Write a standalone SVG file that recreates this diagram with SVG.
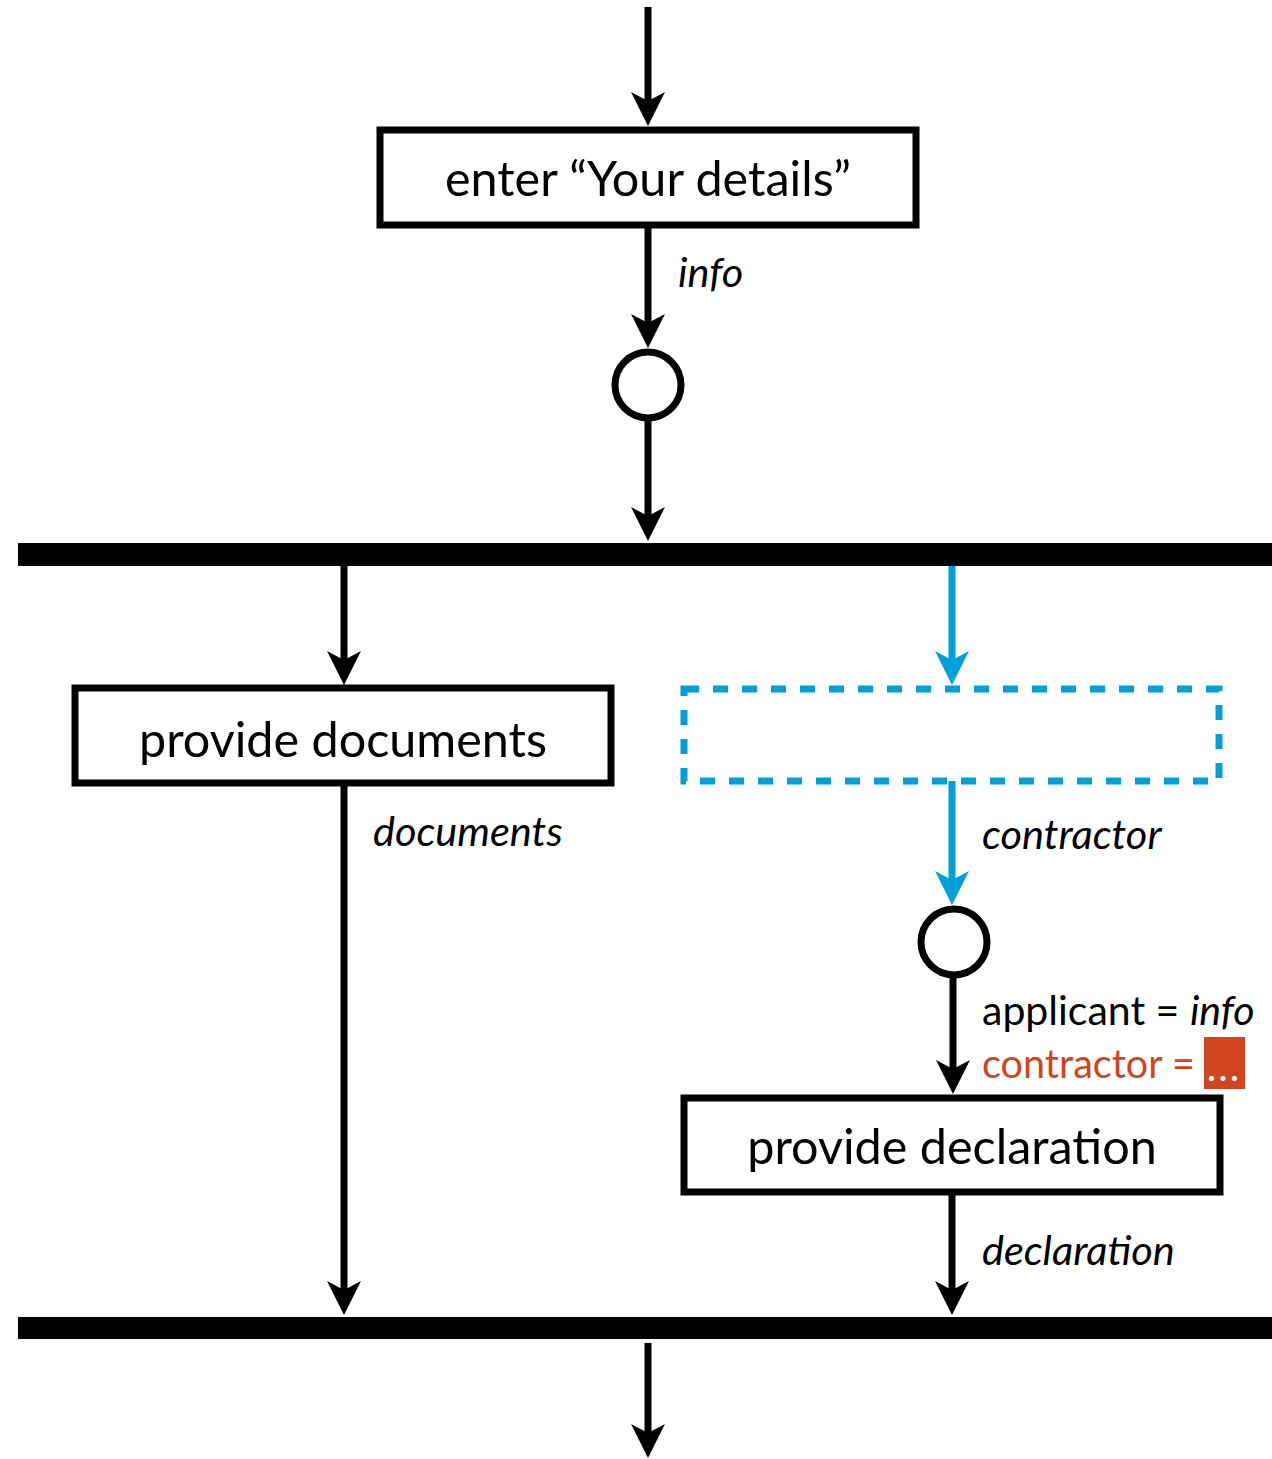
<svg xmlns="http://www.w3.org/2000/svg" width="1272" height="1459" viewBox="0 0 1272 1459">
<style>
.box{fill:#fff;stroke:#000;stroke-width:7}
.dash{fill:none;stroke:#009fd6;stroke-width:7;stroke-dasharray:15 14}
.circ{fill:#fff;stroke:#000;stroke-width:7}
.bar{fill:#000}
.ln{stroke:#000;stroke-width:7;fill:none}
.lnb{stroke:#009fd6;stroke-width:7;fill:none}
.t{font-family:"Lato","Liberation Sans",sans-serif;font-size:48.5px;fill:#000;text-anchor:middle}
.lab{font-family:"Lato","Liberation Sans",sans-serif;font-size:41.5px;font-style:italic;fill:#000}
.eq{font-family:"Lato","Liberation Sans",sans-serif;font-size:41px;fill:#000}
.or{fill:#cf4520}
</style>
<defs>
<marker id="ah" markerUnits="userSpaceOnUse" viewBox="-20 -20 40 40" markerWidth="40" markerHeight="40" refX="0" refY="0" orient="auto" overflow="visible">
<path d="M20,0 L-14,-17 L-5,0 L-14,17 Z" fill="#000"/>
</marker>
<marker id="ahb" markerUnits="userSpaceOnUse" viewBox="-20 -20 40 40" markerWidth="40" markerHeight="40" refX="0" refY="0" orient="auto" overflow="visible">
<path d="M20,0 L-14,-17 L-5,0 L-14,17 Z" fill="#009fd6"/>
</marker>
</defs>
<g id="connectors">
<line class="ln" x1="648" y1="7" x2="648" y2="106" marker-end="url(#ah)"/>
<line class="ln" x1="648" y1="225" x2="648" y2="328" marker-end="url(#ah)"/>
<line class="ln" x1="648" y1="420" x2="648" y2="521" marker-end="url(#ah)"/>
<line class="ln" x1="344" y1="565" x2="344" y2="665" marker-end="url(#ah)"/>
<line class="lnb" x1="952" y1="565" x2="952" y2="665" marker-end="url(#ahb)"/>
<line class="ln" x1="344" y1="783" x2="344" y2="1295" marker-end="url(#ah)"/>
<line class="lnb" x1="952" y1="781" x2="952" y2="885" marker-end="url(#ahb)"/>
<line class="ln" x1="953" y1="976" x2="953" y2="1074" marker-end="url(#ah)"/>
<line class="ln" x1="952" y1="1192" x2="952" y2="1295" marker-end="url(#ah)"/>
<line class="ln" x1="648" y1="1343" x2="648" y2="1438" marker-end="url(#ah)"/>
<text class="lab" x="678" y="287">info</text>
<text class="lab" x="373" y="846">documents</text>
<text class="lab" x="982" y="849">contractor</text>
<text class="lab" x="982" y="1265">declaration</text>
<text class="eq" x="982" y="1025">applicant = <tspan font-style="italic">info</tspan></text>
<text class="eq or" x="982" y="1078" textLength="213" lengthAdjust="spacingAndGlyphs">contractor =</text>
<rect x="1204" y="1037" width="41" height="52" fill="#cf4520"/>
<text x="1224" y="1081" font-family="Lato,'Liberation Sans',sans-serif" font-size="40" fill="#fff" text-anchor="middle" letter-spacing="2">...</text>
</g>
<g id="start-enter-details">
<rect class="box" x="380" y="130" width="536" height="95"/>
<text class="t" x="648" y="196">enter “Your details”</text>
</g>
<g id="merge1"><circle class="circ" cx="648" cy="385" r="33"/></g>
<g id="fork"><rect class="bar" x="18" y="543" width="1254" height="23"/></g>
<g id="provide-documents">
<rect class="box" x="75" y="688" width="536" height="95"/>
<text class="t" x="343" y="757">provide documents</text>
</g>
<g id="dashed-node"><rect class="dash" x="684" y="689" width="535" height="92"/></g>
<g id="merge2"><circle class="circ" cx="954" cy="942" r="33"/></g>
<g id="provide-declaration">
<rect class="box" x="684" y="1098" width="536" height="94"/>
<text class="t" x="952" y="1164">provide declaration</text>
</g>
<g id="join"><rect class="bar" x="18" y="1317" width="1254" height="22"/></g>
</svg>
